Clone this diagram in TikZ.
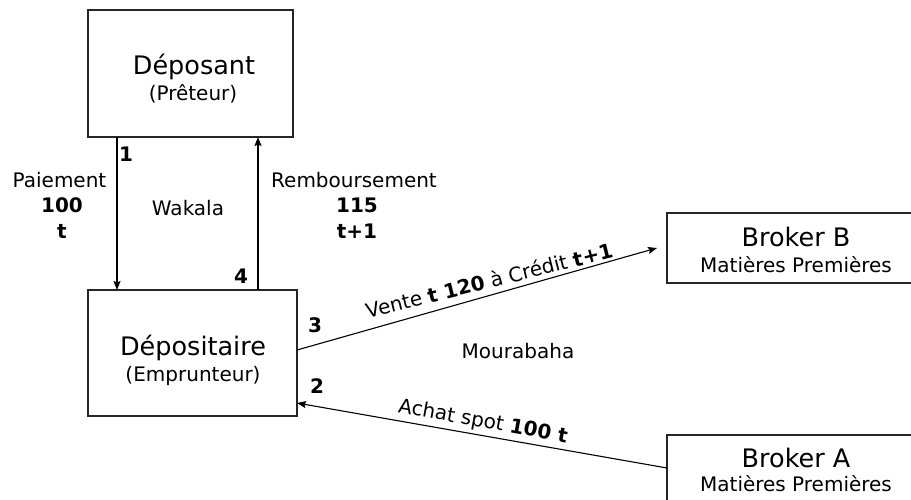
\documentclass[tikz,border=0pt]{standalone}
\usepackage{fontspec}
\setmainfont{DejaVu Sans}
\usetikzlibrary{arrows.meta}

\tikzset{
  box/.style={draw=black!85, line width=1.1pt, fill=white, inner sep=0pt, outer sep=0pt},
  title/.style={font=\fontsize{25.5}{30}\selectfont, anchor=base, inner sep=0pt},
  sub/.style={font=\fontsize{20}{24}\selectfont, anchor=base, inner sep=0pt},
  lbl/.style={font=\fontsize{20}{24}\selectfont, anchor=base, inner sep=0pt},
  num/.style={font=\fontsize{20}{24}\selectfont\bfseries, anchor=base, inner sep=0pt},
  arr/.style={line width=1.1pt, -{Stealth[length=9pt,width=7pt,inset=1.5pt]}},
}

\begin{document}
\begin{tikzpicture}[x=1pt, y=-1pt]
  \useasboundingbox (0,0) rectangle (911,500);
  \clip (0,0) rectangle (911,500);

  % boxes
  \node[box, minimum width=205pt, minimum height=127pt] (dep)  at (190.5,73.5) {};
  \node[box, minimum width=209pt, minimum height=126pt] (dept) at (192.5,353) {};
  \node[box, minimum width=263pt, minimum height=70pt]  (bB)   at (798.5,248) {};
  \node[box, minimum width=263pt, minimum height=85pt]  (bA)   at (798.5,477.5) {};

  % box texts
  \node[title] (depT)  at (194,75)  {Déposant};
  \node[sub]   (depS)  at (193,101) {(Prêteur)};
  \node[title] (deptT) at (193,355) {Dépositaire};
  \node[sub]   (deptS) at (193,381) {(Emprunteur)};
  \node[title] (bBT)   at (796,247) {Broker B};
  \node[sub]   (bBS)   at (796,272) {Matières Premières};
  \node[title] (bAT)   at (796,467) {Broker A};
  \node[sub]   (bAS)   at (796,491) {Matières Premières};

  % helper coordinates for connector positions
  \coordinate (x1) at (117,0);
  \coordinate (x4) at (258,0);
  \coordinate (y3) at (0,350);
  \coordinate (y2a) at (0,468);
  \coordinate (y2b) at (0,403);
  \coordinate (vtip) at (657,248);

  % Wakala flows
  \draw[arr] (x1 |- dep.south) -- (x1 |- dept.north);
  \draw[arr] (x4 |- dept.north) -- (x4 |- dep.south);

  % Mourabaha flows
  \draw[arr] (dept.east |- y3) -- (vtip);
  \draw[arr] (bA.west |- y2a) -- (dept.east |- y2b);

  % step numbers
  \node[num] (n1) at (126,162) {1};
  \node[num] (n4) at (241,283) {4};
  \node[num] (n3) at (315,332) {3};
  \node[num] (n2) at (317,393) {2};

  % flow labels
  \node[lbl] (pai)  at (59.5,188) {Paiement};
  \node[num] (p100) at (62,213)   {100};
  \node[num] (pt)   at (62,239)   {t};
  \node[lbl] (wak)  at (188,215)  {Wakala};
  \node[lbl] (remb) at (354,188)  {Remboursement};
  \node[num] (r115) at (357,213)  {115};
  \node[num] (rt)   at (357,239)  {t+1};
  \node[lbl] (mour) at (518,358)  {Mourabaha};

  \node[lbl, rotate=14] (vente) at (491,288)
    {Vente \textbf{t 120} à Crédit \textbf{t+1}};
  \node[lbl, rotate=-10.3] (achat) at (482,427.5)
    {Achat spot \textbf{100 t}};
\end{tikzpicture}
\end{document}
